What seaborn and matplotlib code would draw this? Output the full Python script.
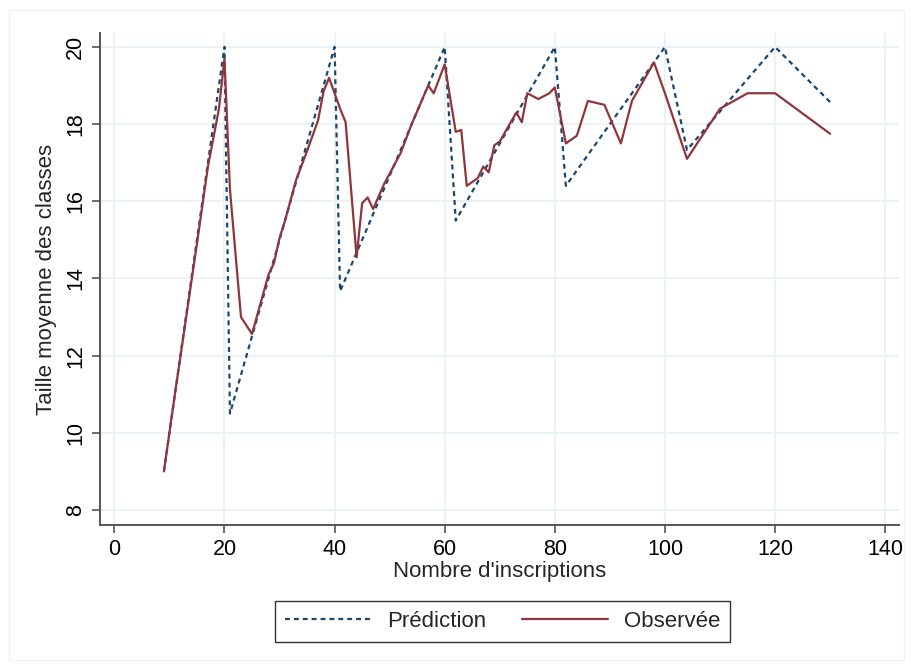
import pandas as pd
import matplotlib
matplotlib.use("Agg")
import matplotlib.pyplot as plt
import seaborn as sns
from matplotlib.lines import Line2D
from matplotlib.patches import Rectangle

# enrolment values present in the data
inscriptions = [9, 11, 13, 15, 17, 19, 20, 21, 23, 25, 28, 29, 30, 31, 33, 35, 37, 38, 39, 40,
                41, 42, 44, 45, 46, 47, 49, 52, 54, 57, 58, 60, 62, 63, 64, 66, 67, 68, 69, 70,
                73, 74, 75, 77, 79, 80, 82, 84, 86, 89, 92, 94, 98, 100, 104, 110, 115, 120, 130]

# predicted class size (rule of 20)
prediction = [9, 11, 13, 15, 17, 19, 20, 10.5, 11.5, 12.5, 14, 14.5, 15, 15.5, 16.5, 17.5, 18.5, 19, 19.5, 20,
              13.67, 14, 14.67, 15, 15.33, 15.67, 16.33, 17.33, 18, 19, 19.33, 20, 15.5, 15.75, 16, 16.5, 16.75, 17, 17.25, 17.5,
              18.25, 18.5, 18.75, 19.25, 19.75, 20, 16.4, 16.8, 17.2, 17.8, 18.4, 18.8, 19.6, 20, 17.33, 18.33, 19.17, 20, 18.57]

# observed mean class size
observee = [9.0, 11.0, 12.95, 14.9, 16.9, 18.4, 19.7, 16.3, 13.0, 12.56, 14.1, 14.4, 15.05, 15.5, 16.55, 17.3, 18.1, 18.85, 19.2, 18.8,
            18.4, 18.05, 14.55, 15.95, 16.1, 15.8, 16.45, 17.25, 18.0, 19.0, 18.8, 19.55, 17.8, 17.85, 16.4, 16.6, 16.9, 16.75, 17.45, 17.55,
            18.3, 18.05, 18.8, 18.65, 18.8, 18.95, 17.5, 17.7, 18.6, 18.5, 17.5, 18.6, 19.6, 18.8, 17.1, 18.4, 18.8, 18.8, 17.75]

x_ticks = [0, 20, 40, 60, 80, 100, 120, 140]
y_ticks = [8, 10, 12, 14, 16, 18, 20]

df = pd.DataFrame({"inscriptions": inscriptions, "prediction": prediction, "observee": observee})

sns.set_style("white")
plt.rcParams['font.family'] = ['Liberation Sans', 'DejaVu Sans']

navy = "#1a476f"
maroon = "#90353b"
grid_col = "#eaf2f3"

fig = plt.figure(figsize=(9.11, 6.69), dpi=100)
ax = fig.add_axes([0.1098, 0.2152, 0.877, 0.7354])

sns.lineplot(data=df, x="inscriptions", y="prediction", ax=ax, color=navy, lw=1.6,
             dashes=False, linestyle=(0, (2.2, 1.8)), zorder=3)
sns.lineplot(data=df, x="inscriptions", y="observee", ax=ax, color=maroon, lw=1.6, zorder=4)

ax.set_xlim(-2.6, 142.5)
ax.set_ylim(7.61, 20.36)
ax.set_xticks(x_ticks)
ax.set_yticks(y_ticks)
ax.grid(True, color=grid_col, lw=1.4)
ax.set_axisbelow(True)

for s in ["top", "right"]:
    ax.spines[s].set_visible(False)
for s in ["left", "bottom"]:
    ax.spines[s].set_color("#555555")
    ax.spines[s].set_linewidth(1.4)

ax.tick_params(axis="both", direction="out", length=6, width=1.2, color="#555555",
               labelsize=15.5, labelcolor="black", pad=4)
ax.tick_params(axis="both", which="both", bottom=True, left=True)
plt.setp(ax.get_yticklabels(), rotation=90, va="center")

ax.set_xlabel("Nombre d'inscriptions", fontsize=16, labelpad=1)
ax.set_ylabel("Taille moyenne des classes", fontsize=16, labelpad=6)

handles = [Line2D([], [], color=navy, lw=1.6, linestyle=(0, (2.2, 1.8))),
           Line2D([], [], color=maroon, lw=1.6)]
leg = fig.legend(handles, ["Prédiction", "Observée"], ncol=2, loc="center",
                 bbox_to_anchor=(0.5516, 0.0717), fontsize=16, frameon=True,
                 fancybox=False, edgecolor="black", handlelength=3.9,
                 columnspacing=1.6, handletextpad=0.7, borderpad=0.45)
leg.get_frame().set_linewidth(1.0)

# faint outer border of the graph region
fig.patches.append(Rectangle((9 / 911, 1 - 660 / 669), 895 / 911, 650 / 669,
                             transform=fig.transFigure, fill=False,
                             edgecolor="#eef2f4", lw=1.0))

fig.savefig("out.png", dpi=100)
